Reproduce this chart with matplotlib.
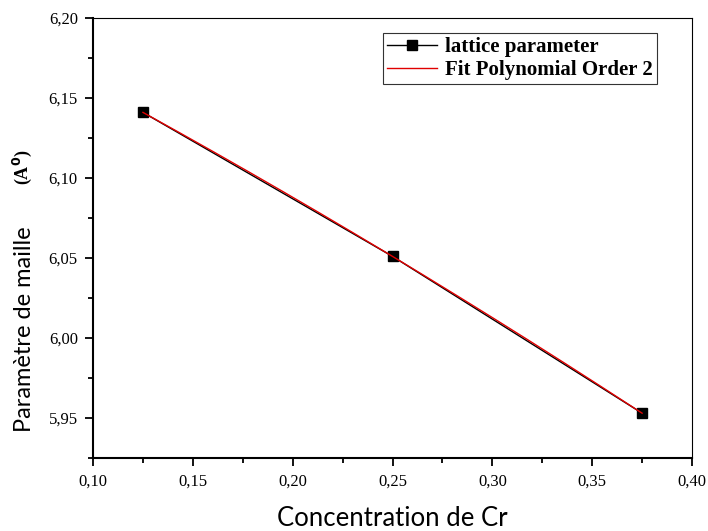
import numpy as np
import matplotlib
matplotlib.use("Agg")
import matplotlib.pyplot as plt
from matplotlib.ticker import MultipleLocator, FuncFormatter

# lattice parameter vs Cr concentration
concentration = [0.125, 0.25, 0.375]
lattice = [6.141, 6.051, 5.953]

# second order polynomial fit through the points
coef = np.polyfit(concentration, lattice, 2)
x_fit = np.linspace(concentration[0], concentration[-1], 200)
y_fit = np.polyval(coef, x_fit)

serif = ["Liberation Serif", "DejaVu Serif"]
sans = ["Lato", "DejaVu Sans"]

fig = plt.figure(figsize=(7.08, 5.31), dpi=100)
ax = fig.add_axes([0.1314, 0.1375, 0.846, 0.8286])

ax.plot(concentration, lattice, color="black", lw=1.0, marker="s",
        markersize=7, label="lattice parameter", zorder=2)
ax.plot(x_fit, y_fit, color="#e00000", lw=1.0,
        label="Fit Polynomial Order 2", zorder=3)

ax.set_xlim(0.10, 0.40)
ax.set_ylim(5.925, 6.20)
ax.xaxis.set_major_locator(MultipleLocator(0.05))
ax.xaxis.set_minor_locator(MultipleLocator(0.025))
ax.yaxis.set_major_locator(MultipleLocator(0.05))
ax.yaxis.set_minor_locator(MultipleLocator(0.025))
comma = FuncFormatter(lambda v, p: f"{v:.2f}".replace(".", ","))
ax.xaxis.set_major_formatter(comma)
ax.yaxis.set_major_formatter(comma)

ax.tick_params(which="both", direction="out", top=False, right=False,
               width=1.3, labelsize=12, pad=5)
ax.tick_params(which="major", length=6)
ax.tick_params(which="minor", length=3.5)
for lab in ax.get_xticklabels() + ax.get_yticklabels():
    lab.set_family(serif)

for side in ["left", "bottom"]:
    ax.spines[side].set_linewidth(1.5)
for side in ["top", "right"]:
    ax.spines[side].set_linewidth(0.8)

leg = ax.legend(loc="upper right", bbox_to_anchor=(0.9415, 0.966),
                prop={"family": serif, "weight": "bold", "size": 15},
                frameon=True, fancybox=False, edgecolor="#333333",
                framealpha=1, handlelength=2.4, handletextpad=0.4,
                borderpad=0.2, labelspacing=0.15, borderaxespad=0)
leg.get_frame().set_linewidth(0.8)

fig.text(0.554, 0.024, "Concentration de Cr", ha="center", va="center",
         fontsize=18.5, family=sans)
fig.text(0.034, 0.380, "Paramètre de maille", ha="center", va="center",
         rotation=90, fontsize=17, family=sans)
fig.text(0.032, 0.685, r"(A$^{\mathbf{0}}$)", ha="center", va="center",
         rotation=90, fontsize=13, family=serif, weight="bold")

fig.savefig("out.png", dpi=100)
